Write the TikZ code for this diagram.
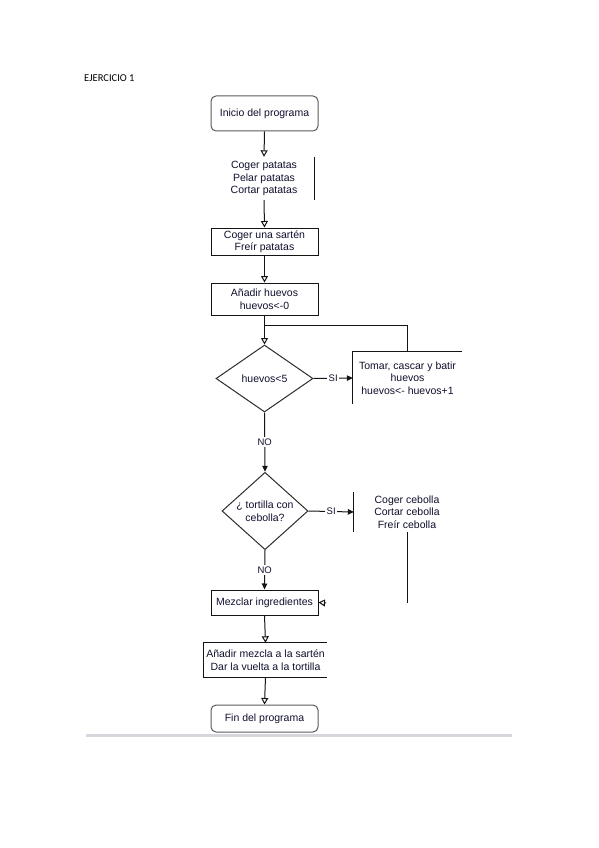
\documentclass[tikz,border=0pt]{standalone}
\usepackage{fontspec}
\setmainfont{Liberation Sans}
\newfontfamily\titlefont{Carlito}
\usetikzlibrary{arrows.meta,shapes.geometric}
\definecolor{txt}{RGB}{15,15,45}
\definecolor{ln}{RGB}{20,20,20}
\definecolor{rule}{RGB}{216,214,220}
\tikzset{
  every node/.style={font=\fontsize{10.5}{12.5}\selectfont, text=txt, align=center, inner sep=0pt},
  procbox/.style={draw=ln, line width=1pt, rectangle, minimum width=107pt},
  termbox/.style={draw=ln!70, line width=1pt, rectangle, rounded corners=5pt, minimum width=107pt},
  decbox/.style={draw=ln!90, line width=1pt, diamond},
  plainbox/.style={rectangle},
  openarr/.style={ln, line width=1pt, -{Triangle[open,length=6.5pt,width=7pt]}},
  fillarr/.style={ln, line width=1pt, -{Triangle[length=6pt,width=5.5pt]}},
  plainln/.style={ln, line width=1pt},
  lbl/.style={fill=white, inner sep=1.5pt, font=\fontsize{9.5}{11}\selectfont}
}
\begin{document}
\begin{tikzpicture}[x=1pt,y=-1pt]
\useasboundingbox (0,0) rectangle (599,848);
\node[anchor=west, font=\titlefont\fontsize{10.5}{12}\selectfont, text=black] (title) at (84,78) {EJERCICIO 1};

\node[termbox, minimum height=35pt] (inicio) at (264.5,113.5) {Inicio del programa};
\node[plainbox, minimum width=100pt, minimum height=43pt] (patatas) at (264,178.5) {Coger patatas\\Pelar patatas\\Cortar patatas};
\draw[plainln] (patatas.north east) -- (patatas.south east);
\node[procbox, minimum height=27pt] (sarten) at (264.5,241.5) {Coger una sartén\\Freír patatas};
\node[procbox, minimum height=32pt] (anadir) at (264.5,299) {Añadir huevos\\huevos<-0};
\node[decbox, minimum width=97pt, minimum height=67pt] (d1) at (264.5,378.5) {huevos<5};
\node[plainbox, minimum width=109pt, minimum height=52pt] (tomar) at (407.5,378) {Tomar, cascar y batir\\huevos\\huevos<- huevos+1};
\draw[plainln] (tomar.south west) -- (tomar.north west) -- (tomar.north east);
\node[decbox, minimum width=86pt, minimum height=70pt] (d2) at (265,511) {¿ tortilla con\\cebolla?};
\node[plainbox, minimum width=106pt, minimum height=40pt] (cebolla) at (407,512) {Coger cebolla\\Cortar cebolla\\Freír cebolla};
\draw[plainln] (cebolla.north west) -- (cebolla.south west);
\node[procbox, minimum height=25pt] (mezclar) at (264.5,602.5) {Mezclar ingredientes};
\node[plainbox, minimum width=123pt, minimum height=34pt] (mezcla2) at (265.5,660) {Añadir mezcla a la sartén\\Dar la vuelta a la tortilla};
\draw[plainln] (mezcla2.north east) -- (mezcla2.north west) -- (mezcla2.south west) -- (mezcla2.south east);
\node[termbox, minimum height=27pt] (fin) at (264.5,718.5) {Fin del programa};

\coordinate (loopj) at (264.5,325);
\coordinate (cebend) at (407,603);
\coordinate (mezarr) at (326,603);
\coordinate (ruleL) at (86,735.5);
\coordinate (ruleR) at (512,735.5);

\draw[openarr] (inicio.south) -- (patatas.north);
\draw[openarr] (patatas.south) -- (sarten.north);
\draw[openarr] (sarten.south) -- (anadir.north);
\draw[openarr] (anadir.south) -- (d1.north);
\draw[plainln] (loopj) -| (tomar.north);
\draw[fillarr] (d1.east) -- node[lbl] {SI} (tomar.west);
\draw[fillarr] (d1.south) -- node[lbl] {NO} (d2.north);
\draw[fillarr] (d2.east) -- node[lbl] {SI} (cebolla.west);
\draw[plainln] (cebolla.south) -- (cebend);
\draw[fillarr] (d2.south) -- node[lbl] {NO} (mezclar.north);
\draw[openarr] (mezarr) -- (mezclar.east);
\draw[openarr] (mezclar.south) -- (mezcla2.north);
\draw[openarr] (mezcla2.south) -- (fin.north);
\draw[rule, line width=3pt] (ruleL) -- (ruleR);
\end{tikzpicture}
\end{document}
